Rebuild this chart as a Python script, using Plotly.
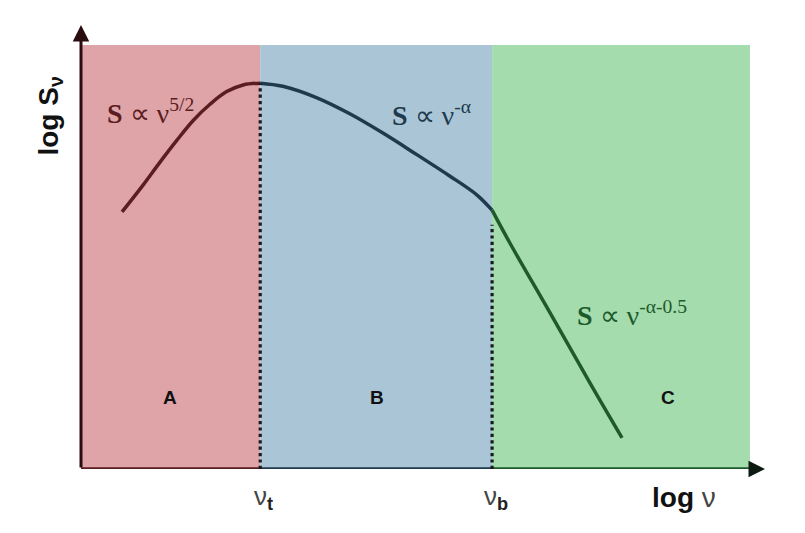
import plotly.graph_objects as go

# ---- data (abstract units: log nu on x, log S on y) ----
region_names = ["A", "B", "C"]
region_edges = [0.0, 2.62, 6.01, 9.78]
region_top = 9.55
region_fill = ["#dfa4a7", "#aac6d6", "#a4dcad"]
region_line = ["#5b1c22", "#1e3a4c", "#1f5a2c"]

# spectrum curve, split per regime
seg_a_x = [0.60, 0.91, 1.15, 1.40, 1.64, 1.89, 2.13, 2.37, 2.62]
seg_a_y = [5.79, 6.40, 6.90, 7.40, 7.85, 8.22, 8.50, 8.65, 8.69]
seg_b_x = [2.62, 2.95, 3.45, 3.93, 4.42, 4.91, 5.39, 5.79, 6.01]
seg_b_y = [8.69, 8.62, 8.36, 8.00, 7.56, 7.08, 6.60, 6.17, 5.83]
seg_c_x = [6.01, 6.27, 6.86, 7.44, 7.91]
seg_c_y = [5.83, 5.09, 3.51, 1.94, 0.70]

nu_t = 2.62
nu_b = 6.01
nu_b_top = 5.5

fig = go.Figure()

shapes = []
for i in range(3):
    shapes.append(dict(type="rect", xref="x", yref="y",
                       x0=region_edges[i], x1=region_edges[i + 1],
                       y0=0, y1=region_top, fillcolor=region_fill[i],
                       line=dict(width=0), layer="below"))
for i in range(3):
    shapes.append(dict(type="line", xref="x", yref="y",
                       x0=region_edges[i], x1=region_edges[i + 1], y0=0, y1=0,
                       line=dict(color=region_line[i], width=3.5), layer="above"))
shapes.append(dict(type="line", xref="x", yref="y", x0=nu_t, x1=nu_t, y0=0, y1=seg_a_y[-1],
                   line=dict(color="#1a1a22", width=3.2, dash="dot"), layer="above"))
shapes.append(dict(type="line", xref="x", yref="y", x0=nu_b, x1=nu_b, y0=0, y1=nu_b_top,
                   line=dict(color="#1a1a22", width=3.2, dash="dot"), layer="above"))

for xs, ys, c in [(seg_a_x, seg_a_y, region_line[0]),
                  (seg_b_x, seg_b_y, region_line[1]),
                  (seg_c_x, seg_c_y, region_line[2])]:
    fig.add_trace(go.Scatter(x=xs, y=ys, mode="lines",
                             line=dict(color=c, width=3.5, shape="spline", smoothing=1.0),
                             hoverinfo="skip", showlegend=False))

ann = []
ann.append(dict(x=0, y=10, ax=0, ay=0, xref="x", yref="y", axref="x", ayref="y",
                showarrow=True, arrowhead=2, arrowsize=1.1, arrowwidth=3,
                arrowcolor="#2a0c0e", text=""))
ann.append(dict(x=10, y=0, ax=region_edges[-1], ay=0, xref="x", yref="y", axref="x", ayref="y",
                showarrow=True, arrowhead=2, arrowsize=1.1, arrowwidth=3,
                arrowcolor="#0d1a10", text=""))

ann.append(dict(x=-0.046, y=7.95, xref="paper", yref="y", showarrow=False, textangle=-90,
                xanchor="center", yanchor="middle",
                text="<b>log S<sub>ν</sub></b>",
                font=dict(family="Liberation Sans", size=28, color="#111111")))
ann.append(dict(x=8.82, y=-0.065, xref="x", yref="paper", showarrow=False,
                xanchor="center", yanchor="middle",
                text="<b>log</b> <span style='color:#444'>ν</span>",
                font=dict(family="Liberation Sans", size=28, color="#111111")))
ann.append(dict(x=nu_t + 0.05, y=-0.065, xref="x", yref="paper", showarrow=False,
                xanchor="center", yanchor="middle",
                text="<span style='color:#444'>ν</span><sub><b>t</b></sub>",
                font=dict(family="Liberation Sans", size=26, color="#222222")))
ann.append(dict(x=nu_b + 0.05, y=-0.065, xref="x", yref="paper", showarrow=False,
                xanchor="center", yanchor="middle",
                text="<span style='color:#444'>ν</span><sub><b>b</b></sub>",
                font=dict(family="Liberation Sans", size=26, color="#222222")))

formula_text = ["<b>S</b> ∝ ν<sup>5/2</sup>", "<b>S</b> ∝ ν<sup>-α</sup>", "<b>S</b> ∝ ν<sup>-α-0.5</sup>"]
formula_x = [1.01, 5.13, 8.05]
formula_y = [8.05, 8.0, 3.5]
for i in range(3):
    ann.append(dict(x=formula_x[i], y=formula_y[i], xref="x", yref="y", showarrow=False,
                    text=formula_text[i],
                    font=dict(family="Liberation Serif", size=28, color=region_line[i])))

letter_x = [1.30, 4.33, 8.58]
for i in range(3):
    ann.append(dict(x=letter_x[i], y=1.6, xref="x", yref="y", showarrow=False,
                    text="<b>" + region_names[i] + "</b>",
                    font=dict(family="Liberation Sans", size=19, color="#111111")))

fig.update_layout(
    width=797, height=525,
    margin=dict(l=73, r=40, t=17, b=64),
    paper_bgcolor="white", plot_bgcolor="white",
    shapes=shapes, annotations=ann,
    xaxis=dict(range=[0, 10], visible=False, fixedrange=True),
    yaxis=dict(range=[0, 10], visible=False, fixedrange=True),
    showlegend=False,
)

fig.write_html("out.html")
